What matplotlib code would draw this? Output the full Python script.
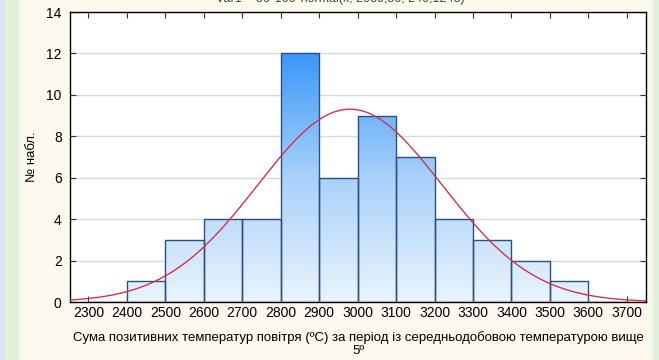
import numpy as np
import matplotlib
matplotlib.use("Agg")
import matplotlib.pyplot as plt
from matplotlib.patches import Rectangle
from matplotlib.colors import LinearSegmentedColormap

plt.rcParams['font.family'] = ['Liberation Sans', 'DejaVu Sans']

# Data
bin_edges = [2300, 2400, 2500, 2600, 2700, 2800, 2900, 3000, 3100, 3200, 3300, 3400, 3500, 3600, 3700]
counts = [0, 1, 3, 4, 4, 12, 6, 9, 7, 4, 3, 2, 1, 0]
x_ticks = [2300, 2400, 2500, 2600, 2700, 2800, 2900, 3000, 3100, 3200, 3300, 3400, 3500, 3600, 3700]
y_ticks = [0, 2, 4, 6, 8, 10, 12, 14]
fit_mean = 2980
fit_sd = 240
title_text = "Var1 = 56*100*normal(x; 2980,36; 240,1248)"
xlabel = "Сума позитивних температур повітря (ºС) за період із середньодобовою температурою вище\n5º"
ylabel = "№ набл."

W, H = 659, 360
fig = plt.figure(figsize=(W / 100, H / 100), dpi=100)
fig.patch.set_facecolor('#FDF9EF')

# side strips
fig.add_artist(Rectangle((0, 0), 5 / W, 1, transform=fig.transFigure, color='#D9E3F3', zorder=0))
fig.add_artist(Rectangle((5 / W, 0), 13 / W, 1, transform=fig.transFigure, color='#E4EFDB', zorder=0))
fig.add_artist(Rectangle((653 / W, 0), 6 / W, 1, transform=fig.transFigure, color='#E4EFDB', zorder=0))

ax = fig.add_axes([70 / W, 1 - 302 / H, (646 - 70) / W, (302 - 12) / H])
ax.set_facecolor('white')

cmap = LinearSegmentedColormap.from_list('g', ['#EAF4FE', '#A9D1FA', '#3A98F8'])
grad = np.linspace(0, 1, 256).reshape(-1, 1)
for i, c in enumerate(counts):
    l, r = bin_edges[i], bin_edges[i + 1]
    rect = Rectangle((l, 0), r - l, c, facecolor='none', edgecolor='#2A4F86', linewidth=1.0, zorder=3)
    ax.add_patch(rect)
    if c > 0:
        im = ax.imshow(grad, cmap=cmap, origin='lower', extent=(l, r, 0, 12), aspect='auto',
                       zorder=2, vmin=0, vmax=1)
        clip = Rectangle((l, 0), r - l, c, transform=ax.transData, facecolor='none', edgecolor='none')
        ax.add_patch(clip)
        im.set_clip_path(clip)

ax.set_xlim(2252, 3750)
ax.set_ylim(0, 14)

xs = np.linspace(2252, 3750, 400)
n_total = sum(counts)
bw = bin_edges[1] - bin_edges[0]
ys = n_total * bw / (fit_sd * np.sqrt(2 * np.pi)) * np.exp(-0.5 * ((xs - fit_mean) / fit_sd) ** 2)
ax.plot(xs, ys, color='#D2334A', linewidth=1.0, zorder=4)

ax.set_xticks(x_ticks)
ax.set_yticks(y_ticks)
ax.grid(axis='y', color='#DADADA', linewidth=1.0, zorder=1)
ax.set_axisbelow(True)
ax.tick_params(direction='in', top=True, right=True, length=4, width=0.8, labelsize=10, color='#333333')
ax.tick_params(axis='x', pad=3)
ax.tick_params(axis='y', pad=6)
for s in ax.spines.values():
    s.set_color('black')
    s.set_linewidth(1.0)

ax.set_xlabel(xlabel, fontsize=9.5, linespacing=1.05, labelpad=8)
ax.set_ylabel(ylabel, fontsize=9.5, labelpad=6)

fig.text(340 / W, 1 + 1 / H, title_text, ha='center', va='center', fontsize=9, color='#444444')

fig.savefig('out.png', dpi=100, facecolor=fig.get_facecolor())
